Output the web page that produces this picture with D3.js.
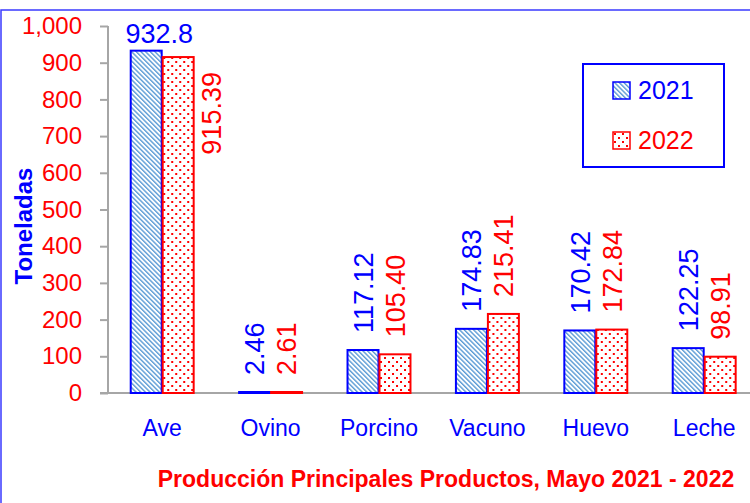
<!DOCTYPE html>
<html>
<head>
<meta charset="utf-8">
<script src="https://cdn.jsdelivr.net/npm/d3@7"></script>
<style>
  body { margin: 0; background: #fff; }
  svg text { font-family: "Liberation Sans", Arial, sans-serif; }
</style>
</head>
<body>
<div id="chart"></div>
<script>
  'use strict';

  var categories = ["Ave", "Ovino", "Porcino", "Vacuno", "Huevo", "Leche"];
  var years = ["2021", "2022"];
  var values2021 = [932.8, 2.46, 117.12, 174.83, 170.42, 122.25];
  var values2022 = [915.39, 2.61, 105.40, 215.41, 172.84, 98.91];
  var labels2021 = ["932.8", "2.46", "117.12", "174.83", "170.42", "122.25"];
  var labels2022 = ["915.39", "2.61", "105.40", "215.41", "172.84", "98.91"];
  var yTicks = [0, 100, 200, 300, 400, 500, 600, 700, 800, 900, 1000];

  var w = 750;
  var h = 503;
  var blue = "#0000ff";
  var red = "#ff0000";
  var axisGray = "#a6a6a6";

  var plotLeft = 108;
  var plotRight = 758.4;
  var plotTop = 26;
  var plotBottom = 393;

  var svg = d3.select("#chart").append("svg")
    .attr("width", w)
    .attr("height", h);

  var defs = svg.append("defs");

  // blue: light diagonal stripes
  var stripes = defs.append("pattern")
    .attr("id", "stripes")
    .attr("patternUnits", "userSpaceOnUse")
    .attr("width", 3.3)
    .attr("height", 3.3)
    .attr("patternTransform", "rotate(-45)");
  stripes.append("rect").attr("width", 3.3).attr("height", 3.3).attr("fill", "#fff");
  stripes.append("rect").attr("width", 1.4).attr("height", 3.3).attr("fill", "#5b9bd5");

  // red: small dots
  var dots = defs.append("pattern")
    .attr("id", "dots")
    .attr("patternUnits", "userSpaceOnUse")
    .attr("width", 8)
    .attr("height", 8);
  dots.append("rect").attr("width", 8).attr("height", 8).attr("fill", "#fff");
  dots.append("rect").attr("x", 1).attr("y", 1).attr("width", 2).attr("height", 2).attr("fill", red);
  dots.append("rect").attr("x", 5).attr("y", 5).attr("width", 2).attr("height", 2).attr("fill", red);

  var series = [
    { year: years[0], values: values2021, labels: labels2021, color: blue, fill: "url(#stripes)" },
    { year: years[1], values: values2022, labels: labels2022, color: red, fill: "url(#dots)" }
  ];

  // outer frame
  svg.append("rect")
    .attr("x", 1)
    .attr("y", 10)
    .attr("width", 800)
    .attr("height", 520)
    .attr("fill", "none")
    .attr("stroke", "#3a3aff")
    .attr("stroke-width", 1.5);

  var x = d3.scaleBand()
    .domain(categories)
    .range([plotLeft, plotRight])
    .paddingInner(0.41)
    .paddingOuter(0.205);

  var xSub = d3.scaleBand()
    .domain(years)
    .range([0, x.bandwidth()]);

  var y = d3.scaleLinear()
    .domain([0, 1000])
    .range([plotBottom, plotTop]);

  // y axis
  var yAxis = svg.append("g")
    .attr("transform", "translate(" + plotLeft + ",0)")
    .call(d3.axisLeft(y).tickValues(yTicks).tickSize(8).tickPadding(18).tickFormat(d3.format(",")));
  yAxis.select(".domain").attr("stroke", axisGray).attr("stroke-width", 2)
    .attr("d", "M0," + plotTop + "V" + plotBottom);
  yAxis.selectAll(".tick line").attr("stroke", axisGray).attr("stroke-width", 2);
  yAxis.selectAll(".tick text")
    .attr("fill", red)
    .style("font-size", "24px")
    .style("font-family", "'Liberation Sans', Arial, sans-serif");

  // x axis line (under the bars)
  svg.append("line")
    .attr("x1", plotLeft - 8)
    .attr("x2", w)
    .attr("y1", plotBottom)
    .attr("y2", plotBottom)
    .attr("stroke", axisGray)
    .attr("stroke-width", 2);

  // bars
  var groups = svg.selectAll("g.cat")
    .data(categories)
    .enter()
    .append("g")
    .attr("class", "cat")
    .attr("transform", function (d) { return "translate(" + x(d) + ",0)"; });

  series.forEach(function (s) {
    groups.append("rect")
      .attr("x", xSub(s.year) + 0.5)
      .attr("y", function (d, i) { return Math.min(y(s.values[i]), plotBottom - 1); })
      .attr("width", xSub.bandwidth() - 1)
      .attr("height", function (d, i) { return Math.max(1, plotBottom - y(s.values[i])); })
      .attr("fill", s.fill)
      .attr("stroke", s.color)
      .attr("stroke-width", 2);
  });

  // data labels
  var labelSize = 27;
  var gap = 17;
  series.forEach(function (s, si) {
    categories.forEach(function (c, i) {
      var barX = x(c) + xSub(s.year);
      var cx = barX + xSub.bandwidth() / 2;
      var top = y(s.values[i]);
      var approxLen = s.labels[i].length * labelSize * 0.53;
      var fits = top - gap - approxLen > plotTop - 20;
      var t = svg.append("text")
        .text(s.labels[i])
        .attr("fill", s.color)
        .style("font-size", labelSize + "px");
      if (fits) {
        t.attr("transform", "translate(" + cx + "," + (top - gap) + ") rotate(-90)")
          .attr("dy", "0.36em")
          .attr("text-anchor", "start");
      } else if (si === 0) {
        t.attr("x", cx + 13)
          .attr("y", top - 8)
          .attr("text-anchor", "middle");
      } else {
        t.attr("transform", "translate(" + (barX + xSub.bandwidth() + 17) + "," + (top + 15) + ") rotate(-90)")
          .attr("dy", "0.36em")
          .attr("text-anchor", "end");
      }
    });
  });

  // category labels
  svg.selectAll("text.cat")
    .data(categories)
    .enter()
    .append("text")
    .attr("class", "cat")
    .attr("x", function (d) { return x(d) + x.bandwidth() / 2; })
    .attr("y", 436)
    .attr("text-anchor", "middle")
    .attr("fill", blue)
    .style("font-size", "23px")
    .text(function (d) { return d; });

  // y title
  svg.append("text")
    .attr("transform", "translate(32,226) rotate(-90)")
    .attr("text-anchor", "middle")
    .attr("fill", blue)
    .style("font-size", "24px")
    .style("font-weight", "bold")
    .text("Toneladas");

  // chart title
  svg.append("text")
    .attr("x", 446)
    .attr("y", 487)
    .attr("text-anchor", "middle")
    .attr("fill", red)
    .style("font-size", "23px")
    .style("font-weight", "bold")
    .text("Producción Principales Productos, Mayo 2021 - 2022");

  // legend
  var legend = svg.append("g");
  legend.append("rect")
    .attr("x", 583)
    .attr("y", 64)
    .attr("width", 141)
    .attr("height", 103)
    .attr("fill", "#fff")
    .attr("stroke", blue)
    .attr("stroke-width", 2);

  var item = legend.selectAll("g.item")
    .data(series)
    .enter()
    .append("g")
    .attr("class", "item")
    .attr("transform", function (d, i) { return "translate(613," + (82 + i * 50) + ")"; });
  item.append("rect")
    .attr("width", 17)
    .attr("height", 17)
    .attr("fill", function (d) { return d.fill; })
    .attr("stroke", function (d) { return d.color; })
    .attr("stroke-width", 1.5);
  item.append("text")
    .attr("x", 25)
    .attr("y", 17)
    .attr("fill", function (d) { return d.color; })
    .style("font-size", "25px")
    .text(function (d) { return d.year; });
</script>
</body>
</html>
